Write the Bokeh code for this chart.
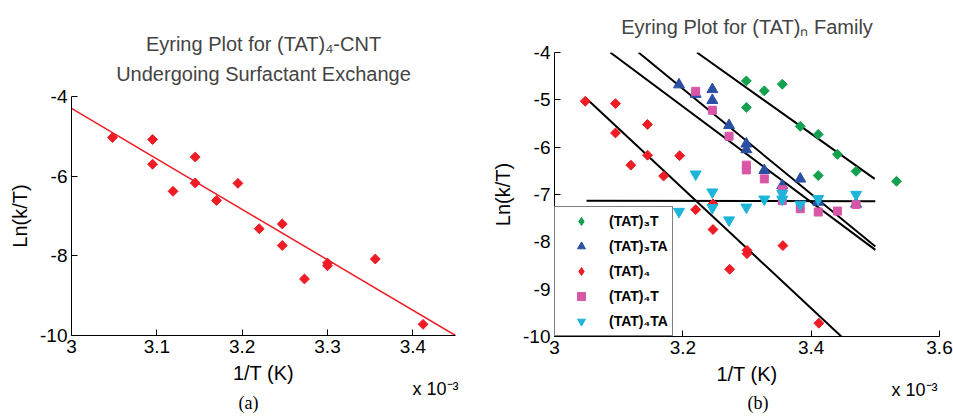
import math
from bokeh.plotting import figure
from bokeh.layouts import row
from bokeh.models import (Legend, LegendItem, Title, FixedTicker,
                          PrintfTickFormatter, Range1d)
from bokeh.embed import file_html
from bokeh.resources import INLINE

# ---------------- data ----------------
# (TAT)4 (shared by both panels)
x_tat4 = [3.048, 3.095, 3.095, 3.119, 3.145, 3.145, 3.170, 3.195, 3.220, 3.247,
          3.247, 3.273, 3.300, 3.300, 3.356, 3.412]
y_tat4 = [-5.03, -5.08, -5.70, -6.38, -5.52, -6.17, -6.61, -6.18, -7.32, -7.20,
          -7.74, -8.58, -8.18, -8.25, -8.08, -9.72]
fit_a_x = [3.0, 3.45]
fit_a_y = [-4.30, -10.0]

# (TAT)3T
x_3t = [3.299, 3.327, 3.355, 3.299, 3.383, 3.411, 3.441, 3.411, 3.470, 3.533]
y_3t = [-4.60, -4.81, -4.67, -5.16, -5.56, -5.73, -6.15, -6.60, -6.51, -6.72]
# (TAT)3TA
x_3ta = [3.194, 3.220, 3.246, 3.246, 3.272, 3.299, 3.299, 3.327, 3.355, 3.383, 3.411, 3.470]
y_3ta = [-4.68, -4.88, -4.78, -5.01, -5.54, -5.93, -6.05, -6.49, -6.81, -6.67, -7.16, -7.20]
# (TAT)4T
x_4t = [3.220, 3.246, 3.272, 3.299, 3.299, 3.327, 3.355, 3.355, 3.383, 3.411, 3.441, 3.470]
y_4t = [-4.82, -5.22, -5.77, -6.38, -6.48, -6.67, -6.90, -7.13, -7.30, -7.37, -7.35, -7.21]
# (TAT)4TA
x_4ta = [3.194, 3.220, 3.246, 3.246, 3.272, 3.299, 3.327, 3.355, 3.355, 3.383, 3.411, 3.470]
y_4ta = [-7.36, -6.57, -6.95, -7.28, -7.54, -7.27, -7.10, -6.98, -7.10, -7.21, -7.09, -7.00]

# fitted lines, panel (b)
line_3t_x = [3.222, 3.499]
line_3t_y = [-4.0, -6.67]
line_3ta_x = [3.131, 3.50]
line_3ta_y = [-4.0, -8.10]
line_4t_x = [3.087, 3.50]
line_4t_y = [-4.0, -8.17]
line_4_x = [3.048, 3.447]
line_4_y = [-4.95, -10.0]
line_4ta_x = [3.05, 3.50]
line_4ta_y = [-7.13, -7.14]

ticks_a_x = [3.0, 3.1, 3.2, 3.3, 3.4]
ticks_a_y = [-10, -8, -6, -4]
ticks_b_x = [3.0, 3.2, 3.4, 3.6]
ticks_b_y = [-10, -9, -8, -7, -6, -5, -4]

RED = "#EE1C25"
GREEN = "#12A14F"
BLUE = "#2B4FA3"
PINK = "#D856A8"
CYAN = "#1DB5D9"
FONT = "Liberation Sans"
SERIF = "Liberation Serif"


def style(p, xt, yt):
    p.outline_line_color = None
    p.grid.visible = False
    p.background_fill_color = "white"
    p.border_fill_color = "white"
    try:
        p.frame_align = False
    except Exception:
        pass
    p.xaxis[0].ticker = FixedTicker(ticks=xt)
    p.yaxis[0].ticker = FixedTicker(ticks=yt)
    for ax in (p.xaxis[0], p.yaxis[0]):
        ax.axis_line_color = "black"
        ax.axis_line_width = 1
        ax.major_tick_line_color = "black"
        ax.major_tick_in = 6
        ax.major_tick_out = 0
        ax.minor_tick_line_color = None
        ax.major_label_text_font = FONT
        ax.major_label_text_font_size = "19px"
        ax.major_label_text_color = "black"
        ax.axis_label_text_font = FONT
        ax.axis_label_text_font_size = "20px"
        ax.axis_label_text_font_style = "normal"
        ax.axis_label_text_color = "black"
        ax.formatter = PrintfTickFormatter(format="%g")
    p.xaxis[0].major_label_standoff = 4
    p.xaxis[0].axis_label_standoff = 6
    p.yaxis[0].major_label_standoff = 4
    p.yaxis[0].axis_label_standoff = 6


def add_bottom_texts(p, exp_offset, tag, tag_offset, tag_standoff):
    p.add_layout(Title(text="x 10⁻³", align="right", vertical_align="bottom",
                       offset=exp_offset, standoff=-19, text_font=FONT,
                       text_font_size="18px", text_font_style="normal",
                       text_color="black"), "below")
    p.add_layout(Title(text=tag, align="left", vertical_align="bottom",
                       offset=tag_offset, standoff=tag_standoff, text_font=SERIF,
                       text_font_size="18px", text_font_style="normal",
                       text_color="black"), "below")


# ---------------- panel (a) ----------------
p1 = figure(width=480, height=416, x_range=Range1d(3.0, 3.45), y_range=Range1d(-10, -4),
            output_backend="svg", toolbar_location=None, title=None,
            min_border_left=71, min_border_right=25, min_border_top=96, min_border_bottom=81,
            x_axis_label="1/T (K)", y_axis_label="Ln(k/T)")
style(p1, ticks_a_x, ticks_a_y)
p1.add_layout(Title(text="Undergoing Surfactant Exchange", align="center",
                    vertical_align="middle", text_font=FONT, text_font_size="20px",
                    text_font_style="normal", standoff=21), "above")
p1.add_layout(Title(text="Eyring Plot for (TAT)₄-CNT", align="center",
                    vertical_align="middle", text_font=FONT, text_font_size="20px",
                    text_font_style="normal", standoff=-9), "above")
p1.line(fit_a_x, fit_a_y, line_color=RED, line_width=1.5)
p1.scatter(x_tat4, y_tat4, marker="square", angle=math.pi / 4, size=7,
           fill_color=RED, line_color=RED)
add_bottom_texts(p1, -3, "(a)", 167, 2)

# ---------------- panel (b) ----------------
p2 = figure(width=473, height=416, x_range=Range1d(3.0, 3.6), y_range=Range1d(-10, -4),
            output_backend="svg", toolbar_location=None, title=None,
            min_border_left=74, min_border_right=14, min_border_top=52, min_border_bottom=80,
            x_axis_label="1/T (K)", y_axis_label="Ln(k/T)")
style(p2, ticks_b_x, ticks_b_y)
p2.add_layout(Title(text="Eyring Plot for (TAT)ₙ Family", align="center",
                    vertical_align="middle", text_font=FONT, text_font_size="20px",
                    text_font_style="normal", standoff=27), "above")

for lx, ly in [(line_3t_x, line_3t_y), (line_3ta_x, line_3ta_y), (line_4t_x, line_4t_y),
               (line_4_x, line_4_y), (line_4ta_x, line_4ta_y)]:
    p2.line(lx, ly, line_color="black", line_width=2)

# diamond-shaped legend swatches sit under the rotated-square markers
k_3t = p2.scatter(x_3t, y_3t, marker="diamond", size=8,
                  fill_color=GREEN, line_color=GREEN)
k_4 = p2.scatter(x_tat4, y_tat4, marker="diamond", size=8,
                 fill_color=RED, line_color=RED)
r_3t = p2.scatter(x_3t, y_3t, marker="square", angle=math.pi / 4, size=7,
                  fill_color=GREEN, line_color=GREEN)
r_3ta = p2.scatter(x_3ta, y_3ta, marker="triangle", size=11,
                   fill_color=BLUE, line_color=BLUE)
r_4 = p2.scatter(x_tat4, y_tat4, marker="square", angle=math.pi / 4, size=7,
                 fill_color=RED, line_color=RED)
r_4t = p2.scatter(x_4t, y_4t, marker="square", size=8,
                  fill_color=PINK, line_color=PINK)
r_4ta = p2.scatter(x_4ta, y_4ta, marker="inverted_triangle", size=11,
                   fill_color=CYAN, line_color=CYAN)

legend = Legend(items=[
    LegendItem(label="(TAT)₃T", renderers=[k_3t]),
    LegendItem(label="(TAT)₃TA", renderers=[r_3ta]),
    LegendItem(label="(TAT)₄", renderers=[k_4]),
    LegendItem(label="(TAT)₄T", renderers=[r_4t]),
    LegendItem(label="(TAT)₄TA", renderers=[r_4ta]),
], location="bottom_left", border_line_color="black", border_line_width=1.5,
    background_fill_color="white", background_fill_alpha=1.0, margin=0, padding=4,
    spacing=5, glyph_height=20, glyph_width=44, label_height=20, label_standoff=6,
    label_text_font=FONT, label_text_font_style="bold", label_text_font_size="14px",
    label_text_color="black")
p2.add_layout(legend)

add_bottom_texts(p2, 2, "(b)", 193, 1)

layout = row(p1, p2, spacing=0)
open("out.html", "w").write(file_html(layout, INLINE))
